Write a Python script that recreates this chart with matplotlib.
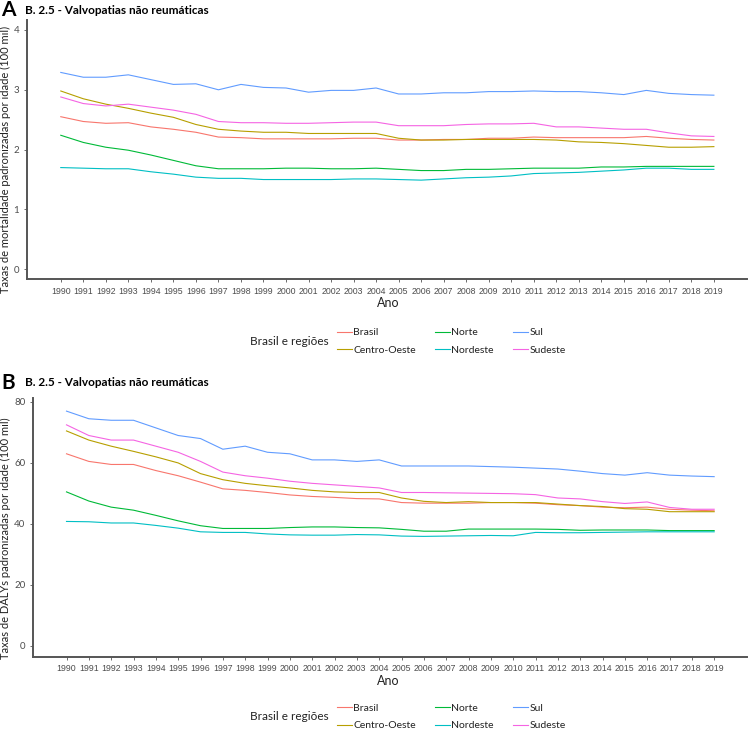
import numpy as np
import matplotlib.pyplot as plt
from matplotlib.lines import Line2D

anos = list(range(1990, 2020))
regioes = ['Brasil', 'Centro-Oeste', 'Norte', 'Nordeste', 'Sul', 'Sudeste']
cores = ['#F8766D', '#B79F00', '#00BA38', '#00BFC4', '#619CFF', '#F564E3']

# A - taxas de mortalidade (100 mil)
mort_brasil = [2.55, 2.47, 2.44, 2.45, 2.38, 2.34, 2.29, 2.21, 2.20, 2.18, 2.18, 2.18, 2.18, 2.19, 2.19,
               2.16, 2.16, 2.17, 2.17, 2.19, 2.19, 2.21, 2.20, 2.20, 2.20, 2.20, 2.22, 2.19, 2.17, 2.16]
mort_co = [2.98, 2.85, 2.76, 2.69, 2.61, 2.54, 2.42, 2.34, 2.31, 2.29, 2.29, 2.27, 2.27, 2.27, 2.27,
           2.19, 2.16, 2.16, 2.17, 2.17, 2.17, 2.17, 2.16, 2.13, 2.12, 2.10, 2.07, 2.04, 2.04, 2.05]
mort_norte = [2.24, 2.12, 2.04, 1.99, 1.91, 1.82, 1.73, 1.68, 1.68, 1.68, 1.69, 1.69, 1.68, 1.68, 1.69,
              1.67, 1.65, 1.65, 1.67, 1.67, 1.68, 1.69, 1.69, 1.69, 1.71, 1.71, 1.72, 1.72, 1.72, 1.72]
mort_nordeste = [1.70, 1.69, 1.68, 1.68, 1.63, 1.59, 1.54, 1.52, 1.52, 1.50, 1.50, 1.50, 1.50, 1.51, 1.51,
                 1.50, 1.49, 1.51, 1.53, 1.54, 1.56, 1.60, 1.61, 1.62, 1.64, 1.66, 1.69, 1.69, 1.67, 1.67]
mort_sul = [3.29, 3.21, 3.21, 3.25, 3.17, 3.09, 3.10, 3.00, 3.09, 3.04, 3.03, 2.96, 2.99, 2.99, 3.03,
            2.93, 2.93, 2.95, 2.95, 2.97, 2.97, 2.98, 2.97, 2.97, 2.95, 2.92, 2.99, 2.94, 2.92, 2.91]
mort_sudeste = [2.88, 2.77, 2.73, 2.76, 2.71, 2.66, 2.59, 2.47, 2.45, 2.45, 2.44, 2.44, 2.45, 2.46, 2.46,
                2.40, 2.40, 2.40, 2.42, 2.43, 2.43, 2.44, 2.38, 2.38, 2.36, 2.34, 2.34, 2.28, 2.23, 2.22]

# B - taxas de DALYs (100 mil)
daly_brasil = [63.0, 60.5, 59.5, 59.5, 57.5, 55.8, 53.7, 51.5, 51.0, 50.3, 49.5, 49.0, 48.7, 48.3, 48.2,
               47.0, 46.8, 46.8, 46.8, 47.0, 47.0, 46.8, 46.3, 46.0, 45.5, 45.3, 45.5, 44.8, 44.5, 44.3]
daly_co = [70.5, 67.5, 65.5, 63.8, 62.0, 60.0, 56.5, 54.5, 53.3, 52.5, 51.8, 51.0, 50.5, 50.3, 50.3,
           48.5, 47.4, 47.0, 47.3, 47.0, 47.0, 47.0, 46.5, 46.0, 45.7, 45.0, 44.8, 44.0, 44.0, 44.0]
daly_norte = [50.5, 47.5, 45.5, 44.5, 42.8, 41.0, 39.4, 38.5, 38.5, 38.5, 38.8, 39.0, 39.0, 38.8, 38.7,
              38.2, 37.6, 37.6, 38.3, 38.3, 38.3, 38.3, 38.2, 37.9, 38.0, 38.0, 38.0, 37.8, 37.8, 37.8]
daly_nordeste = [40.8, 40.7, 40.3, 40.3, 39.5, 38.6, 37.4, 37.2, 37.2, 36.7, 36.4, 36.3, 36.3, 36.5, 36.4,
                 36.0, 35.9, 36.0, 36.1, 36.2, 36.1, 37.2, 37.1, 37.1, 37.2, 37.3, 37.4, 37.4, 37.4, 37.4]
daly_sul = [77.0, 74.5, 74.0, 74.0, 71.5, 69.0, 68.0, 64.5, 65.5, 63.5, 63.0, 61.0, 61.0, 60.5, 61.0,
            59.0, 59.0, 59.0, 59.0, 58.8, 58.6, 58.3, 58.0, 57.3, 56.5, 56.0, 56.8, 56.0, 55.7, 55.5]
daly_sudeste = [72.5, 69.0, 67.5, 67.5, 65.5, 63.5, 60.5, 57.0, 55.8, 55.0, 54.0, 53.3, 52.8, 52.3, 51.8,
                50.3, 50.3, 50.2, 50.1, 50.0, 49.9, 49.6, 48.5, 48.2, 47.3, 46.7, 47.2, 45.4, 44.8, 44.8]

mort = [mort_brasil, mort_co, mort_norte, mort_nordeste, mort_sul, mort_sudeste]
daly = [daly_brasil, daly_co, daly_norte, daly_nordeste, daly_sul, daly_sudeste]

fonte = 'Lato'
cinza = '#4d4d4d'

fig = plt.figure(figsize=(7.5, 7.33), dpi=100)
axA = fig.add_axes([0.036, 0.619, 0.960, 0.354])
axB = fig.add_axes([0.044, 0.104, 0.952, 0.353])


def painel(ax, series, ylim, yticks, ylabel, letra, ytop_fig, legend_y, ano_y):
    for s, c, nome in zip(series, cores, regioes):
        ax.plot(anos, s, color=c, lw=0.8, label=nome)
    ax.set_xlim(1988.5, 2020.47)
    ax.set_ylim(*ylim)
    ax.set_xticks(anos)
    ax.set_xticklabels([str(a) for a in anos], fontsize=6.3, family='Liberation Sans', color=cinza)
    ax.set_yticks(yticks)
    ax.set_yticklabels([str(t) for t in yticks], fontsize=7, family=fonte, color=cinza)
    ax.tick_params(length=2.5, width=0.6, color='#555555', pad=3)
    for lado in ['top', 'right']:
        ax.spines[lado].set_visible(False)
    for lado in ['left', 'bottom']:
        ax.spines[lado].set_color('#555555')
        ax.spines[lado].set_linewidth(1.4)
    ax.set_ylabel(ylabel, fontsize=8.0, family=fonte, color='#222222', labelpad=2, y=0.46)
    fig.text(0.002, ytop_fig, letra, fontsize=15, fontweight='bold', family=fonte, va='center')
    fig.text(0.033, ytop_fig, 'B. 2.5 - Valvopatias não reumáticas', fontsize=8.5,
             fontweight='bold', family=fonte, va='center')
    fig.text(0.517, ano_y, 'Ano', fontsize=9, family=fonte, ha='center', va='center', color='#222222')
    fig.text(0.333, legend_y, 'Brasil e regiões', fontsize=8.5, family=fonte, va='center', color='#222222')
    handles = [Line2D([0], [0], color=c, lw=0.8) for c in cores]
    leg = fig.legend(handles, regioes, ncol=3, loc='center left',
                     bbox_to_anchor=(0.449, legend_y), frameon=False,
                     prop={'family': fonte, 'size': 7.5}, handlelength=1.5,
                     handletextpad=0.1, columnspacing=1.8, labelspacing=0.8,
                     borderaxespad=0, borderpad=0)
    for t in leg.get_texts():
        t.set_color('#222222')


painel(axA, mort, (-0.167, 4.17), [0, 1, 2, 3, 4],
       'Taxas de mortalidade padronizadas por idade (100 mil)', 'A', 0.986, 0.534, 0.587)
painel(axB, daly, (-3.6, 81.3), [0, 20, 40, 60, 80],
       'Taxas de DALYs padronizadas por idade (100 mil)', 'B', 0.478, 0.022, 0.071)

fig.savefig('out.png', dpi=100)
